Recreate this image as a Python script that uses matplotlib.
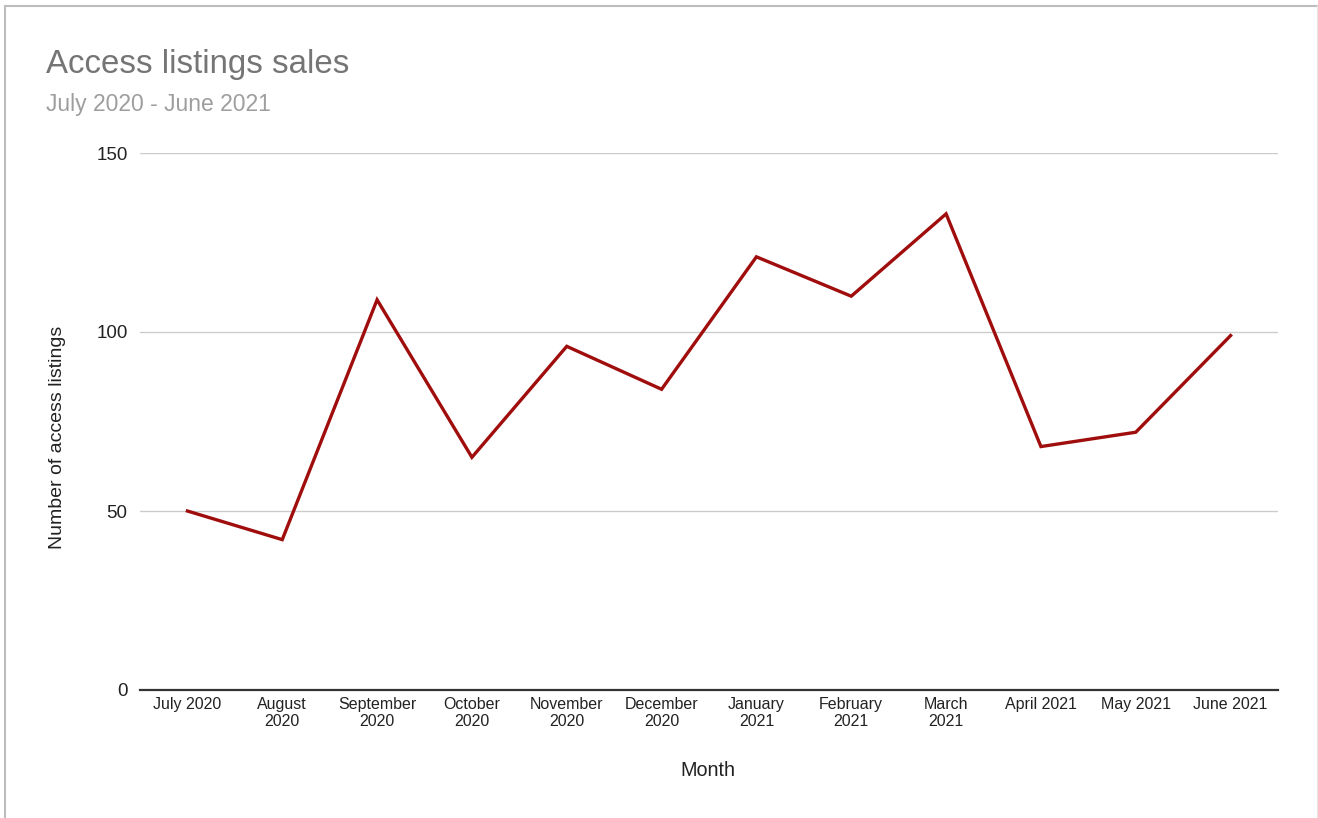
import matplotlib
matplotlib.use("Agg")
import matplotlib.pyplot as plt
from matplotlib.lines import Line2D

plt.rcParams["font.family"] = ["Liberation Sans", "DejaVu Sans"]

# data
months = ["July 2020", "August\n2020", "September\n2020", "October\n2020",
          "November\n2020", "December\n2020", "January\n2021", "February\n2021",
          "March\n2021", "April 2021", "May 2021", "June 2021"]
listings = [50, 42, 109, 65, 96, 84, 121, 110, 133, 68, 72, 99]
yticks = [0, 50, 100, 150]

LINE = "#a00d0d"
GRID = "#cccccc"
TXT = "#222222"

fig = plt.figure(figsize=(13.18, 8.18), dpi=100)
fig.patch.set_facecolor("white")
ax = fig.add_axes([140 / 1318, 1 - 690 / 818, 1138 / 1318, 537 / 818])

x = list(range(len(months)))
ax.plot(x, listings, color=LINE, lw=2.4, solid_joinstyle="miter", zorder=3)

ax.set_xlim(-0.5, len(months) - 0.5)
ax.set_ylim(0, 150)
ax.set_yticks(yticks)
ax.set_yticklabels([str(v) for v in yticks], fontsize=13.5, color=TXT)
ax.set_xticks(x)
ax.set_xticklabels(months, fontsize=11.5, color=TXT, linespacing=1.15)
ax.tick_params(axis="both", length=0)
ax.tick_params(axis="y", pad=9)
ax.tick_params(axis="x", pad=5)
ax.grid(axis="y", color=GRID, lw=1)
ax.set_axisbelow(True)
for s in ["top", "right", "left"]:
    ax.spines[s].set_visible(False)
ax.spines["bottom"].set_color("#333333")
ax.spines["bottom"].set_linewidth(1.6)
ax.spines["bottom"].set_zorder(4)

fig.text(46 / 1318, 1 - 64 / 818, "Access listings sales", fontsize=23.8,
         color="#757575", ha="left", va="center")
fig.text(46 / 1318, 1 - 104 / 818, "July 2020 - June 2021", fontsize=16.5,
         color="#9e9e9e", ha="left", va="center")
fig.text(57 / 1318, 1 - 437 / 818, "Number of access listings", fontsize=14,
         color=TXT, rotation=90, ha="center", va="center")
fig.text(708 / 1318, 1 - 771 / 818, "Month", fontsize=14.2, color=TXT,
         ha="center", va="center")

# frame round the chart (no bottom edge)
fig.add_artist(Line2D([5 / 1318, 5 / 1318], [0, 1 - 6 / 818], transform=fig.transFigure,
                      color="#bdbdbd", lw=1.5))
fig.add_artist(Line2D([5 / 1318, 1], [1 - 6 / 818, 1 - 6 / 818], transform=fig.transFigure,
                      color="#bdbdbd", lw=1.5))
fig.add_artist(Line2D([1317 / 1318, 1317 / 1318], [0, 1 - 6 / 818], transform=fig.transFigure,
                      color="#e6e6e6", lw=1))

fig.savefig("out.png", dpi=100, facecolor="white")
plt.close(fig)
